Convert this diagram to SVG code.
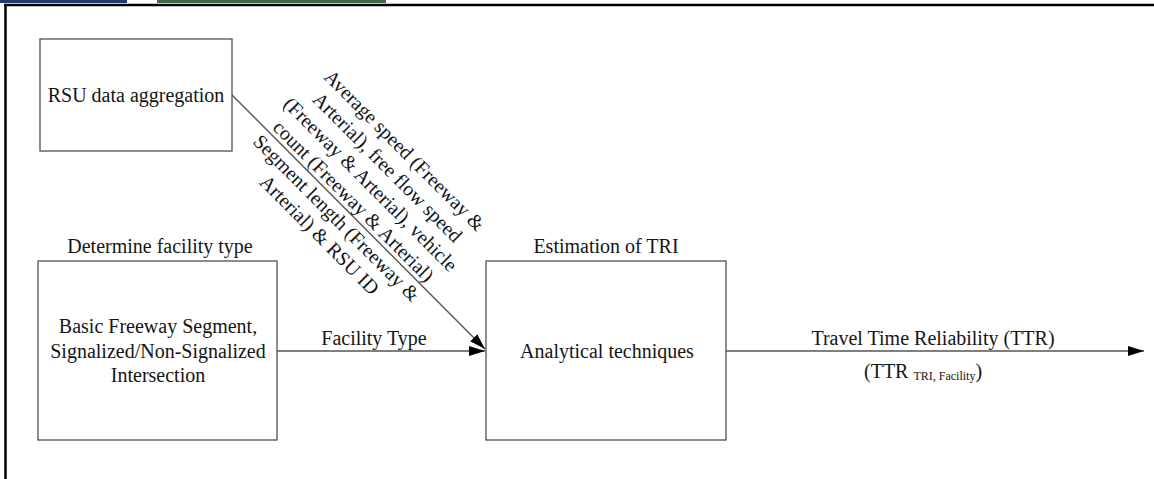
<svg xmlns="http://www.w3.org/2000/svg" width="1154" height="479" viewBox="0 0 1154 479">
  <style>
    text { font-family: "Liberation Serif", "Times New Roman", serif; font-size: 20px; fill: #151515; }
    .mid { text-anchor: middle; }
    .box { fill: #ffffff; stroke: #505050; stroke-width: 1.3; }
    .wire { fill: none; stroke: #555555; stroke-width: 1.4; }
    .sub { font-size: 12px; }
  </style>
  <defs>
    <marker id="arrow" viewBox="0 0 16 10" refX="16" refY="5" markerWidth="16" markerHeight="10" markerUnits="userSpaceOnUse" orient="auto">
      <path d="M0,0 L16,5 L0,10 Z" fill="#000000"/>
    </marker>
  </defs>

  <rect x="0" y="0" width="1154" height="479" fill="#ffffff"/>

  <!-- page header strips and frame -->
  <rect x="0" y="0" width="127" height="3" fill="#1f3a68"/>
  <rect x="157" y="0" width="229" height="3" fill="#3d6b4a"/>
  <line x1="4" y1="5" x2="1154" y2="5" stroke="#000000" stroke-width="2.5"/>
  <line x1="5.5" y1="4" x2="5.5" y2="479" stroke="#000000" stroke-width="2.5"/>

  <!-- connectors -->
  <g id="connectors">
    <line class="wire" x1="232" y1="95" x2="485" y2="349" marker-end="url(#arrow)"/>
    <line class="wire" x1="277" y1="351" x2="485" y2="351" marker-end="url(#arrow)"/>
    <line class="wire" x1="726" y1="351" x2="1144" y2="351" marker-end="url(#arrow)"/>

    <g id="label-rsu-data" transform="translate(232,95) rotate(45.1)">
      <text class="mid" x="161" y="-76.5">Average speed (Freeway &amp;</text>
      <text class="mid" x="161" y="-52.5">Arterial), free flow speed</text>
      <text class="mid" x="161" y="-28.5">(Freeway &amp; Arterial), vehicle</text>
      <text class="mid" x="161" y="-4.5">count (Freeway &amp; Arterial)</text>
      <text class="mid" x="161" y="19.5">Segment length (Freeway &amp;</text>
      <text class="mid" x="161" y="43.5">Arterial) &amp; RSU ID</text>
    </g>

    <text class="mid" x="374" y="345">Facility Type</text>
    <text class="mid" x="933" y="345">Travel Time Reliability (TTR)</text>
    <text x="864" y="378">(TTR <tspan class="sub" dy="2">TRI, Facility</tspan><tspan dy="-2">)</tspan></text>
  </g>

  <!-- nodes -->
  <g id="node-rsu">
    <rect class="box" x="40" y="39" width="192" height="112"/>
    <text class="mid" x="136" y="102">RSU data aggregation</text>
  </g>

  <g id="node-facility">
    <text class="mid" x="160" y="253">Determine facility type</text>
    <rect class="box" x="38" y="261" width="239" height="179"/>
    <text class="mid" x="158" y="333">Basic Freeway Segment,</text>
    <text class="mid" x="158" y="357.5">Signalized/Non-Signalized</text>
    <text class="mid" x="158" y="382">Intersection</text>
  </g>

  <g id="node-tri">
    <text class="mid" x="606" y="253">Estimation of TRI</text>
    <rect class="box" x="486" y="261" width="240" height="179"/>
    <text class="mid" x="607" y="358">Analytical techniques</text>
  </g>
</svg>
